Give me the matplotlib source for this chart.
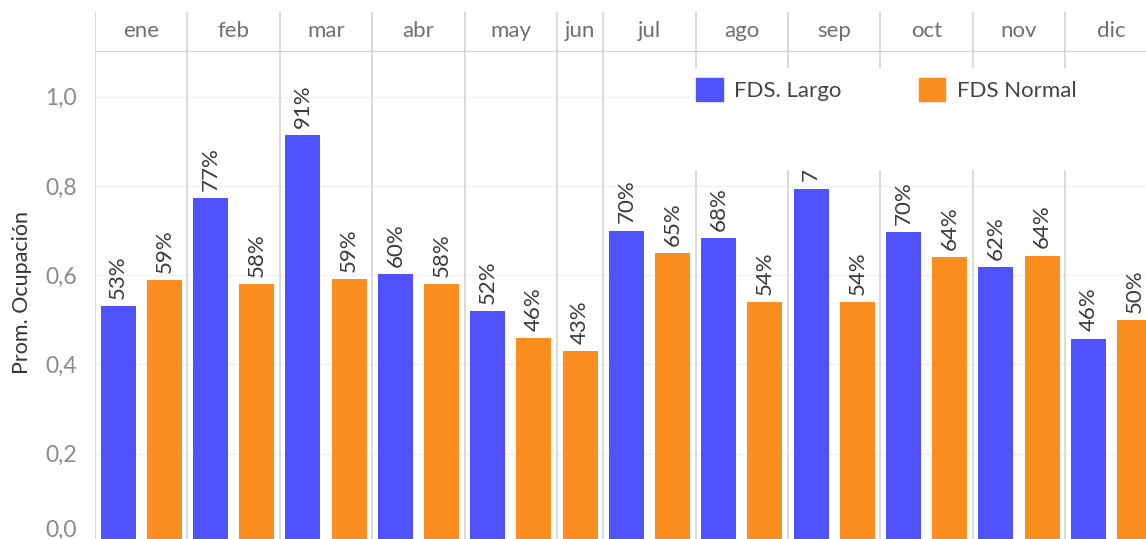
import numpy as np
import matplotlib
matplotlib.use('Agg')
import matplotlib.pyplot as plt
from matplotlib.patches import Rectangle, Patch
from matplotlib.transforms import ScaledTranslation

plt.rcParams['font.family'] = ['Lato', 'DejaVu Sans']

# datos: ocupación promedio por mes
meses = ['ene', 'feb', 'mar', 'abr', 'may', 'jun', 'jul', 'ago', 'sep', 'oct', 'nov', 'dic']
fds_largo = [0.53, 0.772, 0.914, 0.602, 0.52, None, 0.70, 0.684, 0.794, 0.696, 0.618, 0.458]
fds_normal = [0.59, 0.58, 0.592, 0.58, 0.46, 0.43, 0.65, 0.54, 0.54, 0.64, 0.644, 0.50]
y_ticks = [0.0, 0.2, 0.4, 0.6, 0.8, 1.0]

azul = '#4f52fd'
naranja = '#fb8e1e'
sep_color = '#d4d4d4'

W, H = 1146, 539
fig = plt.figure(figsize=(W / 100, H / 100), dpi=100)

# posiciones de las barras: cada barra ocupa una ranura
xs, cols, vals, bordes, centros = [], [], [], [0], []
pos = 0
for i, m in enumerate(meses):
    start = pos
    for v, c in ((fds_largo[i], azul), (fds_normal[i], naranja)):
        if v is None:
            continue
        xs.append(pos + 0.5)
        cols.append(c)
        vals.append(v)
        pos += 1
    bordes.append(pos)
    centros.append((start + pos) / 2)

slot = 46.2
left = 95 / W
width = pos * slot / W
ax = fig.add_axes([left, -4 / H, width, 491 / H])
ax.set_xlim(0, pos)
ax.set_ylim(0, 1.1)

ax.bar(xs, vals, width=0.76, color=cols, zorder=2)
for x, v in zip(xs, vals):
    ax.text(x, v + 0.016, f'{v * 100:.0f}%', rotation=90, ha='center', va='bottom',
            fontsize=16, color='#3a3a3a', zorder=3)

for b in bordes:
    ax.axvline(b, color=sep_color, lw=1.2, zorder=1)

ax.set_yticks(y_ticks)
ax.set_yticklabels([f'{t:.1f}'.replace('.', ',') for t in y_ticks])
ax.tick_params(axis='y', length=0, pad=13, labelsize=16.5, labelcolor='#8a8a8a')
ax.tick_params(axis='x', length=0, labelbottom=False)
ax.yaxis.grid(True, color='#f1f1f1', lw=1)
ax.set_axisbelow(True)
for s in ax.spines.values():
    s.set_visible(False)
lab0 = ax.get_yticklabels()[0]
lab0.set_transform(lab0.get_transform() + ScaledTranslation(0, 15 / 100, fig.dpi_scale_trans))

fig.text(22 / W, 1 - 292 / H, 'Prom. Ocupación', rotation=90, ha='center', va='center',
         fontsize=15.5, color='#333333')

# cabecera con los meses
hx = fig.add_axes([left, 1 - 52 / H, width, 40 / H])
hx.set_xlim(0, pos)
hx.set_ylim(0, 1)
hx.axis('off')
for b in bordes:
    hx.axvline(b, color=sep_color, lw=1.2)
hx.axhline(0, color=sep_color, lw=1.5)
for c, m in zip(centros, meses):
    hx.text(c, 0.52, m, ha='center', va='center', fontsize=16, color='#707070')

# caja blanca de la leyenda
fig.patches.append(Rectangle((695 / W, 1 - 170 / H), 1, 102 / H, transform=fig.transFigure,
                             facecolor='white', edgecolor='none', zorder=5))
handles = [Patch(color=azul, label='FDS. Largo'), Patch(color=naranja, label='FDS Normal')]
leg = fig.legend(handles=handles, loc='upper left', bbox_to_anchor=(677 / W, 1 - 59 / H),
                 ncol=2, frameon=False, fontsize=16, handlelength=1.2, handleheight=1.2,
                 handletextpad=0.5, columnspacing=3.5, labelcolor='#444444', borderpad=0.35)
leg.set_zorder(6)

fig.savefig('out.png', dpi=100)
